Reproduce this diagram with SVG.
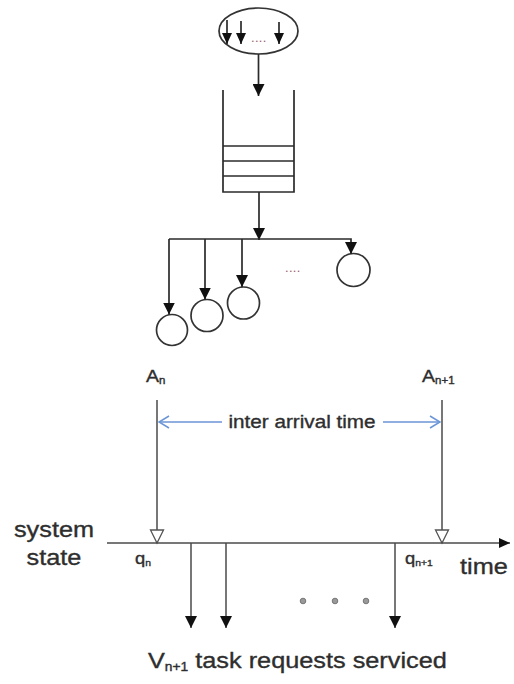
<svg xmlns="http://www.w3.org/2000/svg" width="514" height="684" viewBox="0 0 514 684">
<style>
.ln{stroke:#2b2b2b;stroke-width:1.7;fill:none}
.gl{stroke:#4a4a4a;stroke-width:1.5;fill:none}
.node{stroke:#333;stroke-width:1.7;fill:#fff}
.lbl{font-family:"Liberation Sans",Arial,sans-serif;fill:#2e2e2e;stroke:#2e2e2e;stroke-width:0.35}
.dotsx{font-family:"Liberation Sans",Arial,sans-serif;font-size:13px;fill:#a05868;letter-spacing:0.3px}
.blue{stroke:#6b95d6;stroke-width:1.5;fill:none}
</style>
<defs>
<marker id="ah" markerUnits="userSpaceOnUse" markerWidth="13" markerHeight="12" viewBox="0 0 13 12" refX="12" refY="6" orient="auto">
<path d="M0,0 L12,6 L0,12 z" fill="#111"/>
</marker>
<marker id="ahs" markerUnits="userSpaceOnUse" markerWidth="12" markerHeight="10" viewBox="0 0 12 10" refX="11" refY="5" orient="auto">
<path d="M0,0 L11,5 L0,10 z" fill="#111"/>
</marker>
<marker id="hollow" markerUnits="userSpaceOnUse" markerWidth="16" markerHeight="16" viewBox="0 0 16 16" refX="14" refY="8" orient="auto">
<path d="M1,1.5 L14,8 L1,14.5 z" fill="#fff" stroke="#555" stroke-width="1.3"/>
</marker>
<marker id="chev" markerUnits="userSpaceOnUse" markerWidth="12" markerHeight="14" viewBox="0 0 12 14" refX="11" refY="7" orient="auto-start-reverse">
<path d="M1,1 L11,7 L1,13" fill="none" stroke="#6b95d6" stroke-width="1.5"/>
</marker>
</defs>

<g id="source">
<ellipse cx="258.5" cy="31" rx="39.5" ry="23" class="node"/>
<line x1="227" y1="20" x2="227" y2="44" class="ln" marker-end="url(#ahs)"/>
<line x1="241" y1="21" x2="241" y2="44" class="ln" marker-end="url(#ahs)"/>
<line x1="279" y1="22" x2="279" y2="44" class="ln" marker-end="url(#ahs)"/>
<text x="251" y="42" class="dotsx">....</text>
</g>

<g id="queue">
<path d="M223,90 V192 H294 V90" class="ln" stroke-width="2"/>
<line x1="223" y1="146" x2="294" y2="146" class="ln" stroke-width="2"/>
<line x1="223" y1="161" x2="294" y2="161" class="ln" stroke-width="2"/>
<line x1="223" y1="176" x2="294" y2="176" class="ln" stroke-width="2"/>
</g>

<g id="server1"><circle cx="172" cy="330" r="15.5" class="node"/></g>
<g id="server2"><circle cx="207" cy="315.5" r="16" class="node"/></g>
<g id="server3"><circle cx="243.5" cy="303" r="16" class="node"/></g>
<g id="server4"><circle cx="353.5" cy="270" r="16.5" class="node"/></g>
<text x="285" y="272" class="dotsx">....</text>

<g id="connectors">
<line x1="258.5" y1="54" x2="258.5" y2="96" class="ln" marker-end="url(#ah)"/>
<line x1="259" y1="192" x2="259" y2="240" class="ln" marker-end="url(#ah)"/>
<path d="M169,239 H351 V254" class="ln" marker-end="url(#ah)"/>
<line x1="169" y1="239" x2="169" y2="314.5" class="ln" marker-end="url(#ah)"/>
<line x1="205" y1="239" x2="205" y2="299.5" class="ln" marker-end="url(#ah)"/>
<line x1="242" y1="239" x2="242" y2="287" class="ln" marker-end="url(#ah)"/>

<line x1="157" y1="400" x2="157" y2="543" class="gl" marker-end="url(#hollow)"/>
<line x1="442" y1="400" x2="442" y2="543" class="gl" marker-end="url(#hollow)"/>
<line x1="159" y1="422" x2="222" y2="422" class="blue" marker-start="url(#chev)"/>
<line x1="383" y1="422" x2="440" y2="422" class="blue" marker-end="url(#chev)"/>
<line x1="107" y1="543" x2="510" y2="543" class="gl" marker-end="url(#ahs)"/>
<line x1="191" y1="543" x2="191" y2="628" class="gl" marker-end="url(#ah)"/>
<line x1="226" y1="543" x2="226" y2="628" class="gl" marker-end="url(#ah)"/>
<line x1="395" y1="543" x2="395" y2="628" class="gl" marker-end="url(#ah)"/>
</g>

<g id="dots" fill="#999" stroke="#777" stroke-width="1">
<circle cx="303" cy="601" r="2.8"/>
<circle cx="335" cy="601" r="2.8"/>
<circle cx="366" cy="601" r="2.8"/>
</g>

<g id="labels">
<text class="lbl" transform="translate(146 382) scale(1.15 1)" style="font-size:17px">A<tspan style="font-size:10px" dy="2">n</tspan></text>
<text class="lbl" transform="translate(422 382) scale(1.15 1)" style="font-size:17px">A<tspan style="font-size:10px" dy="2">n+1</tspan></text>
<text class="lbl" transform="translate(302 428) scale(1.15 1)" text-anchor="middle" style="font-size:18px">inter arrival time</text>
<text class="lbl" transform="translate(54 537) scale(1.15 1)" text-anchor="middle" style="font-size:22px">system</text>
<text class="lbl" transform="translate(54 565) scale(1.15 1)" text-anchor="middle" style="font-size:22px">state</text>
<text class="lbl" transform="translate(135 564) scale(1.15 1)" style="font-size:16px">q<tspan style="font-size:9px" dy="2">n</tspan></text>
<text class="lbl" transform="translate(405 564) scale(1.15 1)" style="font-size:16px">q<tspan style="font-size:9px" dy="2">n+1</tspan></text>
<text class="lbl" transform="translate(460 574) scale(1.15 1)" style="font-size:22px">time</text>
<text class="lbl" transform="translate(148 668) scale(1.15 1)" style="font-size:22px">V<tspan style="font-size:12px" dy="3">n+1</tspan><tspan dy="-3"> task requests serviced</tspan></text>
</g>
</svg>
